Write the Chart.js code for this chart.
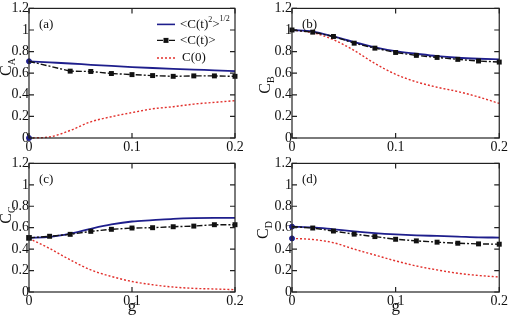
<!DOCTYPE html>
<html><head><meta charset="utf-8">
<script src="https://cdn.jsdelivr.net/npm/chart.js@4.4.1/dist/chart.umd.min.js"></script>
<style>
html,body{margin:0;padding:0;background:#fff;}
body{width:509px;height:320px;position:relative;overflow:hidden;}
.p{position:absolute;}
</style></head><body>
<div class="p" style="left:0;top:0;width:250px;height:155px"><canvas id="ca"></canvas></div>
<div class="p" style="left:255px;top:0;width:254px;height:155px"><canvas id="cb"></canvas></div>
<div class="p" style="left:0;top:155px;width:250px;height:165px"><canvas id="cc"></canvas></div>
<div class="p" style="left:255px;top:155px;width:254px;height:165px"><canvas id="cd"></canvas></div>
<script>
// ---- data ----
const g = [0, 0.02, 0.04, 0.06, 0.08, 0.10, 0.12, 0.14, 0.16, 0.18, 0.20];
const xTicks = [0, 0.1, 0.2];
const yTicks = [0, 0.2, 0.4, 0.6, 0.8, 1, 1.2];

const aRms  = [0.71, 0.700, 0.690, 0.678, 0.667, 0.657, 0.648, 0.640, 0.633, 0.627, 0.620];
const aMean = [0.71, 0.665, 0.619, 0.616, 0.597, 0.587, 0.578, 0.571, 0.575, 0.575, 0.571];
const aZero = [0.00, 0.010, 0.070, 0.150, 0.197, 0.235, 0.270, 0.290, 0.314, 0.330, 0.346];

const bRms  = [1.00, 0.985, 0.940, 0.887, 0.840, 0.804, 0.780, 0.758, 0.743, 0.734, 0.728];
const bMean = [1.00, 0.980, 0.940, 0.878, 0.832, 0.792, 0.765, 0.746, 0.728, 0.713, 0.703];
const bZero = [1.00, 0.975, 0.910, 0.810, 0.690, 0.590, 0.520, 0.470, 0.430, 0.380, 0.320];

const cRms  = [0.505, 0.514, 0.545, 0.590, 0.630, 0.658, 0.670, 0.683, 0.690, 0.692, 0.692];
const cMean = [0.505, 0.520, 0.538, 0.566, 0.585, 0.597, 0.600, 0.609, 0.615, 0.628, 0.628];
const cZero = [0.500, 0.406, 0.300, 0.206, 0.145, 0.098, 0.068, 0.046, 0.034, 0.028, 0.022];

const dRms  = [0.610, 0.603, 0.585, 0.566, 0.550, 0.538, 0.529, 0.523, 0.517, 0.510, 0.508];
const dMean = [0.610, 0.597, 0.569, 0.540, 0.517, 0.492, 0.477, 0.465, 0.455, 0.449, 0.446];
const dZero = [0.500, 0.490, 0.460, 0.400, 0.345, 0.290, 0.243, 0.206, 0.175, 0.154, 0.140];

// ---- styles ----
const FONT = '"Liberation Serif", "Times New Roman", serif';
const NAVY = '#1e1e8c';
const RED = '#e2302c';
const BLACK = '#111';
const fmt = v => String(Math.round(v * 10) / 10);

const framePlugin = {
  id: 'frame',
  afterDraw(chart, args, o) {
    const ctx = chart.ctx, a = chart.chartArea, xs = chart.scales.x, ys = chart.scales.y;
    ctx.save();
    ctx.strokeStyle = '#222'; ctx.lineWidth = 1.2;
    ctx.strokeRect(a.left, a.top, a.right - a.left, a.bottom - a.top);
    ctx.beginPath();
    const tl = 5;
    xTicks.forEach(v => { const x = xs.getPixelForValue(v);
      ctx.moveTo(x, a.bottom); ctx.lineTo(x, a.bottom - tl);
      ctx.moveTo(x, a.top); ctx.lineTo(x, a.top + tl); });
    yTicks.forEach(v => { const y = ys.getPixelForValue(v);
      ctx.moveTo(a.left, y); ctx.lineTo(a.left + tl, y);
      ctx.moveTo(a.right, y); ctx.lineTo(a.right - tl, y); });
    ctx.stroke();
    // panel label
    ctx.fillStyle = BLACK; ctx.textBaseline = 'middle'; ctx.textAlign = 'left';
    ctx.font = '13px ' + FONT;
    ctx.fillText(o.label, a.left + 10, a.top + 16);
    // y title C_X
    ctx.save();
    ctx.translate(a.left + o.tx, o.ty);
    ctx.rotate(-Math.PI / 2);
    ctx.font = '16px ' + FONT;
    const wC = ctx.measureText('C').width;
    ctx.font = '10px ' + FONT;
    const wS = ctx.measureText(o.sub).width;
    const start = -(wC + wS) / 2;
    ctx.font = '16px ' + FONT;
    ctx.fillText('C', start, 0);
    ctx.font = '10px ' + FONT;
    ctx.fillText(o.sub, start + wC, 5);
    ctx.restore();
    // legend
    if (o.legend) {
      const x0 = a.right - 78, x1 = a.right - 60, tx = a.right - 55;
      const r1 = a.top + 16, r2 = a.top + 32, r3 = a.top + 49;
      ctx.lineWidth = 1.6;
      ctx.strokeStyle = NAVY; ctx.setLineDash([]);
      ctx.beginPath(); ctx.moveTo(x0, r1); ctx.lineTo(x1, r1); ctx.stroke();
      ctx.strokeStyle = BLACK; ctx.lineWidth = 1.4; ctx.setLineDash([6, 2, 2, 2]);
      ctx.beginPath(); ctx.moveTo(x0, r2); ctx.lineTo(x1, r2); ctx.stroke();
      ctx.setLineDash([]); ctx.fillStyle = BLACK;
      ctx.fillRect((x0 + x1) / 2 - 2.5, r2 - 2.5, 5, 5);
      ctx.strokeStyle = RED; ctx.lineWidth = 1.5; ctx.setLineDash([2, 2]);
      ctx.beginPath(); ctx.moveTo(x0, r3 + 0.5); ctx.lineTo(x1, r3 + 0.5); ctx.stroke();
      ctx.setLineDash([]);
      ctx.fillStyle = BLACK;
      let x = tx;
      const seg = (t, size, dy) => { ctx.font = size + 'px ' + FONT; ctx.fillText(t, x, r1 + dy); x += ctx.measureText(t).width; };
      seg('<C(t)', 13, 0); seg('2', 8, -4); seg('>', 13, 0); seg('1/2', 8, -5);
      ctx.font = '13px ' + FONT;
      ctx.fillText('<C(t)>', tx, r2);
      ctx.fillText('C(0)', tx + 2, r3);
    }
    ctx.restore();
  }
};

function pts(arr) { return g.map((x, i) => ({ x: x, y: arr[i] })); }

function makeChart(id, rms, mean, zero, o) {
  const meanR = g.map((x, i) => (i === 0 ? o.mean0 : (o.skip && o.skip.includes(i) ? 0 : 3.5)));
  const dotR = g.map((x, i) => (i === 0 && o.dots ? 2.5 : 0));
  return new Chart(document.getElementById(id), {
    type: 'line',
    data: { datasets: [
      { data: pts(mean), borderColor: BLACK, borderWidth: 1.4, borderDash: [6, 2, 2, 2],
        pointStyle: 'rect', pointRadius: meanR, pointBackgroundColor: BLACK, pointBorderColor: BLACK,
        pointBorderWidth: 0, tension: 0 },
      { data: pts(rms), borderColor: NAVY, borderWidth: 1.8, cubicInterpolationMode: 'monotone',
        pointRadius: dotR, pointBackgroundColor: NAVY, pointBorderColor: NAVY, pointBorderWidth: 1 },
      { data: pts(zero), borderColor: RED, borderWidth: 1.4, borderDash: [2, 2], cubicInterpolationMode: 'monotone',
        pointRadius: dotR, pointBackgroundColor: NAVY, pointBorderColor: NAVY, pointBorderWidth: 1 }
    ] },
    options: {
      responsive: true, maintainAspectRatio: false, animation: false,
      clip: false,
      layout: { autoPadding: false, padding: { top: o.padTop, right: o.padRight, left: 0, bottom: 0 } },
      plugins: { legend: { display: false }, tooltip: { enabled: false }, frame: o },
      scales: {
        x: { type: 'linear', min: 0, max: 0.2,
          afterFit(s) { s.height = o.xh; },
          afterBuildTicks(s) { s.ticks = xTicks.map(v => ({ value: v })); },
          grid: { display: false, drawTicks: false, tickLength: 0 }, border: { display: false },
          ticks: { padding: 1, maxRotation: 0, autoSkip: false, color: BLACK, font: { family: FONT, size: 14 }, callback: v => fmt(v) },
          title: { display: o.showG, text: 'g', color: BLACK, font: { family: FONT, size: 17 }, padding: { top: 0, bottom: 3 } } },
        y: { min: 0, max: 1.2,
          afterFit(s) { s.width = o.yw; },
          afterBuildTicks(s) { s.ticks = yTicks.map(v => ({ value: v })); },
          grid: { display: false, drawTicks: false, tickLength: 0 }, border: { display: false },
          ticks: { padding: 0, autoSkip: false, color: BLACK, font: { family: FONT, size: 14 }, callback: v => fmt(v) } }
      }
    },
    plugins: [framePlugin]
  });
}

function drawAll() {
  makeChart('ca', aRms, aMean, aZero, { label: '(a)', sub: 'A', legend: true, tx: -22, ty: 67,
    padTop: 8, padRight: 15, yw: 29, xh: 17, showG: false, mean0: 0, skip: [1], dots: true });
  makeChart('cb', bRms, bMean, bZero, { label: '(b)', sub: 'B', legend: false, tx: -26, ty: 85,
    padTop: 8, padRight: 8, yw: 37, xh: 17, showG: false, mean0: 3.5, dots: false });
  makeChart('cc', cRms, cMean, cZero, { label: '(c)', sub: 'C', legend: false, tx: -22, ty: 60,
    padTop: 7, padRight: 15, yw: 29, xh: 28, showG: true, mean0: 4, dots: false });
  makeChart('cd', dRms, dMean, dZero, { label: '(d)', sub: 'D', legend: false, tx: -28, ty: 75,
    padTop: 8, padRight: 8, yw: 37, xh: 28, showG: true, mean0: 0, dots: true });
}
if (document.fonts && document.fonts.load) {
  Promise.all([document.fonts.load('14px "Liberation Serif"')]).then(drawAll, drawAll);
} else { drawAll(); }
</script>
</body></html>
